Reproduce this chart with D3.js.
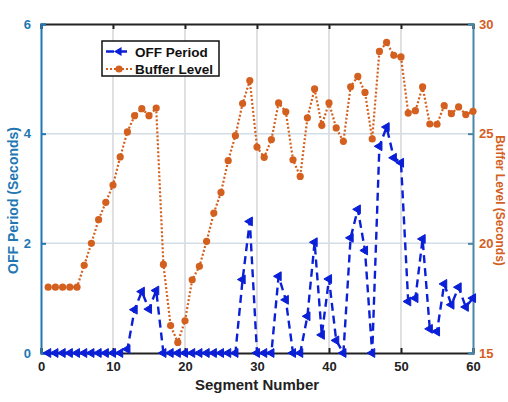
<!DOCTYPE html>
<html>
<head>
<meta charset="utf-8">
<script src="https://cdn.jsdelivr.net/npm/d3@7"></script>
<style>
  body { margin: 0; background: #fff; }
  svg { font-family: "Liberation Sans", Arial, sans-serif; }
</style>
</head>
<body>
<div id="chart"></div>
<script>
// data
const segments = d3.range(1, 61);
const offPeriod = [
  0, 0, 0, 0, 0, 0, 0, 0, 0, 0,
  0, 0.07, 0.79, 1.12, 0.8, 1.14, 0, 0, 0, 0,
  0, 0, 0, 0, 0, 0, 0, 1.34, 2.4, 0,
  0, 0, 1.4, 0.97, 0, 0, 0.67, 2.02, 0.33, 1.35,
  0.23, 0, 2.1, 2.62, 1.87, 0, 3.77, 4.12, 3.56, 3.47,
  0.94, 1.0, 2.08, 0.44, 0.39, 1.26, 0.88, 1.2, 0.84, 1.0
];
const bufferLevel = [
  18, 18, 18, 18, 18, 19, 20, 21.08, 21.87, 22.66,
  23.94, 25.08, 25.82, 26.14, 25.82, 26.17, 19.04, 16.25, 15.48, 16.47,
  18.34, 18.95, 20.09, 21.38, 22.32, 23.77, 24.91, 26.37, 27.42, 24.39,
  23.92, 24.73, 26.4, 26.0, 23.81, 23.05, 25.72, 27.04, 25.38, 26.4,
  25.26, 24.65, 27.14, 27.61, 26.88, 24.76, 28.75, 29.16, 28.57, 28.5,
  25.94, 26.05, 27.13, 25.44, 25.43, 26.28, 25.91, 26.22, 25.87, 26.02
];
const xTicks = [0, 10, 20, 30, 40, 50, 60];
const leftTicks = [0, 2, 4, 6];
const rightTicks = [15, 20, 25, 30];
const seriesNames = ["OFF Period", "Buffer Level"];

const blueAxis = "#2277b3", orange = "#d4601f", lineBlue = "#0a1fd6", rightAxisCol = "#4a86a8";

const margin = { top: 24, right: 35, bottom: 49, left: 41 },
  width = 508 - margin.left - margin.right,
  height = 402 - margin.top - margin.bottom;

const svg = d3.select("#chart").append("svg")
  .attr("width", 508).attr("height", 402)
  .append("g")
  .attr("transform", `translate(${margin.left},${margin.top})`);

const x = d3.scaleLinear().domain([0, 60]).range([0, width]);
const yL = d3.scaleLinear().domain([0, 6]).range([height, 0]);
const yR = d3.scaleLinear().domain([15, 30]).range([height, 0]);

// grid
svg.append("g").selectAll("line").data(xTicks.slice(1, -1)).join("line")
  .attr("x1", d => x(d)).attr("x2", d => x(d)).attr("y1", 0).attr("y2", height)
  .attr("stroke", "#d3d6db").attr("stroke-width", 1.5);
svg.append("g").selectAll("line").data(leftTicks.slice(1, -1)).join("line")
  .attr("x1", 0).attr("x2", width).attr("y1", d => yL(d)).attr("y2", d => yL(d))
  .attr("stroke", "#d3dde6").attr("stroke-width", 1.5);

// axes
const styleAxis = (g, col) => {
  g.selectAll(".domain").attr("stroke", col).attr("stroke-width", 2);
  g.selectAll(".tick line").attr("stroke", col).attr("stroke-width", 2);
  g.selectAll("text").attr("font-size", 13).attr("font-weight", "bold");
};

svg.append("g").call(d3.axisTop(x).tickValues(xTicks).tickSize(-5).tickFormat(""))
  .call(g => styleAxis(g, "#222"));

const xAxis = svg.append("g").attr("transform", `translate(0,${height})`)
  .call(d3.axisBottom(x).tickValues(xTicks).tickSize(-5).tickPadding(9))
  .call(g => styleAxis(g, "#222"));
xAxis.selectAll("text").attr("fill", "#222");

const lAxis = svg.append("g")
  .call(d3.axisLeft(yL).tickValues(leftTicks).tickSize(-5).tickPadding(10).tickFormat(d3.format("d")))
  .call(g => styleAxis(g, blueAxis));
lAxis.selectAll("text").attr("fill", blueAxis);

const rAxis = svg.append("g").attr("transform", `translate(${width},0)`)
  .call(d3.axisRight(yR).tickValues(rightTicks).tickSize(-5).tickPadding(6).tickFormat(d3.format("d")))
  .call(g => styleAxis(g, rightAxisCol));
rAxis.selectAll("text").attr("fill", orange);

// axis labels
svg.append("text").attr("x", width / 2).attr("y", height + 37)
  .attr("text-anchor", "middle").attr("font-size", 15).attr("font-weight", "bold")
  .attr("fill", "#222").text("Segment Number");
svg.append("text").attr("transform", `translate(${-23},${height / 2 + 12}) rotate(-90)`)
  .attr("text-anchor", "middle").attr("font-size", 14).attr("font-weight", "bold")
  .attr("fill", blueAxis).text("OFF Period (Seconds)");
svg.append("text").attr("transform", `translate(${width + 27},${height / 2 + 12}) rotate(90)`)
  .attr("text-anchor", "middle").attr("dy", "0.35em").attr("font-size", 12).attr("font-weight", "bold")
  .attr("fill", orange).text("Buffer Level (Seconds)");

// buffer level series
const bufData = segments.map((s, i) => [s, bufferLevel[i]]);
svg.append("path").datum(bufData)
  .attr("fill", "none").attr("stroke", orange).attr("stroke-width", 2.2)
  .attr("stroke-dasharray", "2,2")
  .attr("d", d3.line().x(d => x(d[0])).y(d => yR(d[1])));
svg.append("g").selectAll("circle").data(bufData).join("circle")
  .attr("cx", d => x(d[0])).attr("cy", d => yR(d[1])).attr("r", 3.6)
  .attr("fill", orange);

// off period series
const offData = segments.map((s, i) => [s, offPeriod[i]]);
svg.append("path").datum(offData)
  .attr("fill", "none").attr("stroke", lineBlue).attr("stroke-width", 2.4)
  .attr("stroke-dasharray", "8,5")
  .attr("d", d3.line().x(d => x(d[0])).y(d => yL(d[1])));
const tri = d3.symbol().type(d3.symbolTriangle).size(34);
svg.append("g").selectAll("path").data(offData).join("path")
  .attr("d", tri)
  .attr("transform", d => `translate(${x(d[0])},${yL(d[1])}) rotate(-90)`)
  .attr("fill", lineBlue).attr("stroke", lineBlue).attr("stroke-width", 1);

// legend
const lg = svg.append("g").attr("transform", `translate(${102 - margin.left},${41 - margin.top})`);
lg.append("rect").attr("width", 117).attr("height", 35)
  .attr("fill", "#fff").attr("stroke", "#111").attr("stroke-width", 1.5);
lg.append("line").attr("x1", 4).attr("x2", 30).attr("y1", 10.5).attr("y2", 10.5)
  .attr("stroke", lineBlue).attr("stroke-width", 2.4).attr("stroke-dasharray", "8,5");
lg.append("path").attr("d", tri).attr("transform", "translate(17,10.5) rotate(-90)")
  .attr("fill", lineBlue);
lg.append("line").attr("x1", 4).attr("x2", 30).attr("y1", 28).attr("y2", 28)
  .attr("stroke", orange).attr("stroke-width", 2.2).attr("stroke-dasharray", "2,2");
lg.append("circle").attr("cx", 17).attr("cy", 28).attr("r", 3.6).attr("fill", orange);
lg.selectAll("text.lab").data(seriesNames).join("text")
  .attr("x", 33).attr("y", (d, i) => 15.5 + i * 17.5)
  .attr("font-size", 13.5).attr("font-weight", "bold").attr("fill", "#111")
  .text(d => d);
</script>
</body>
</html>
